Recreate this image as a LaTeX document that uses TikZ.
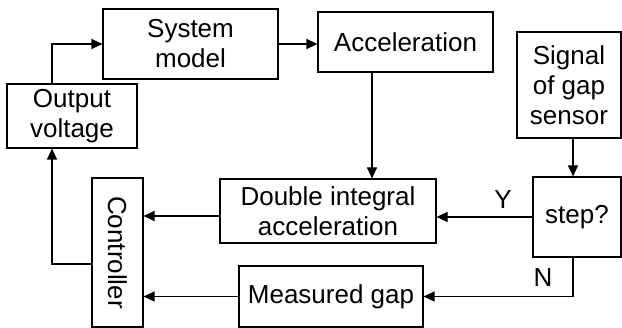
\documentclass[tikz,border=0pt]{standalone}
\usepackage{fontspec}
\setmainfont{Liberation Sans}
\usetikzlibrary{arrows.meta,calc}
\begin{document}
\begin{tikzpicture}[x=1pt,y=-1pt,
  blk/.style={draw,line width=1.1pt,align=center,inner sep=0pt,font=\fontsize{26}{30}\selectfont},
  conn/.style={line width=1.1pt,-{Triangle[length=11pt,width=10pt]}},
  lbl/.style={font=\fontsize{26}{30}\selectfont}]
\useasboundingbox (0,0) rectangle (622,328);
\node[blk,minimum width=175pt,minimum height=70pt] (sys) at (190.5,44) {System\\model};
\node[blk,minimum width=175pt,minimum height=60pt] (acc) at (405.5,42) {Acceleration};
\node[blk,minimum width=104pt,minimum height=106pt] (sig) at (569,85) {Signal\\of gap\\sensor};
\node[blk,minimum width=130pt,minimum height=64pt] (out) at (72,116) {Output\\voltage};
\node[blk,minimum width=149pt,minimum height=51pt,rotate=-90] (ctrl) at (117.5,252.5) {Controller};
\node[blk,minimum width=216pt,minimum height=64pt] (dbl) at (328,211) {Double integral\\acceleration};
\node[blk,minimum width=184pt,minimum height=61pt] (meas) at (331,296.5) {Measured gap};
\node[blk,minimum width=88pt,minimum height=80pt] (step) at (577,217) {step?};
\draw[conn] ($(out.north)+(-20,0)$) |- (sys.west);
\draw[conn] (sys.east) -- (sys.east -| acc.west);
\draw[conn] ($(acc.south)+(-33.5,0)$) coordinate (a1) -- (a1 |- dbl.north);
\draw[conn] ($(sig.south)+(4,0)$) coordinate (s1) -- (s1 |- step.north);
\draw[conn] (step.west) -- (step.west -| dbl.east);
\node[lbl] (ylbl) at (503,200) {Y};
\draw[conn] ($(step.south)+(-4,0)$) |- (meas.east);
\node[lbl] (nlbl) at (543,278) {N};
\draw[conn] ($(dbl.west)+(0,5)$) coordinate (d1) -- (d1 -| ctrl.north);
\draw[conn] (meas.west) -- (meas.west -| ctrl.north);
\draw[conn] ($(ctrl.south)+(0,11.5)$) -| ($(out.south)+(-20,0)$);
\end{tikzpicture}
\end{document}
